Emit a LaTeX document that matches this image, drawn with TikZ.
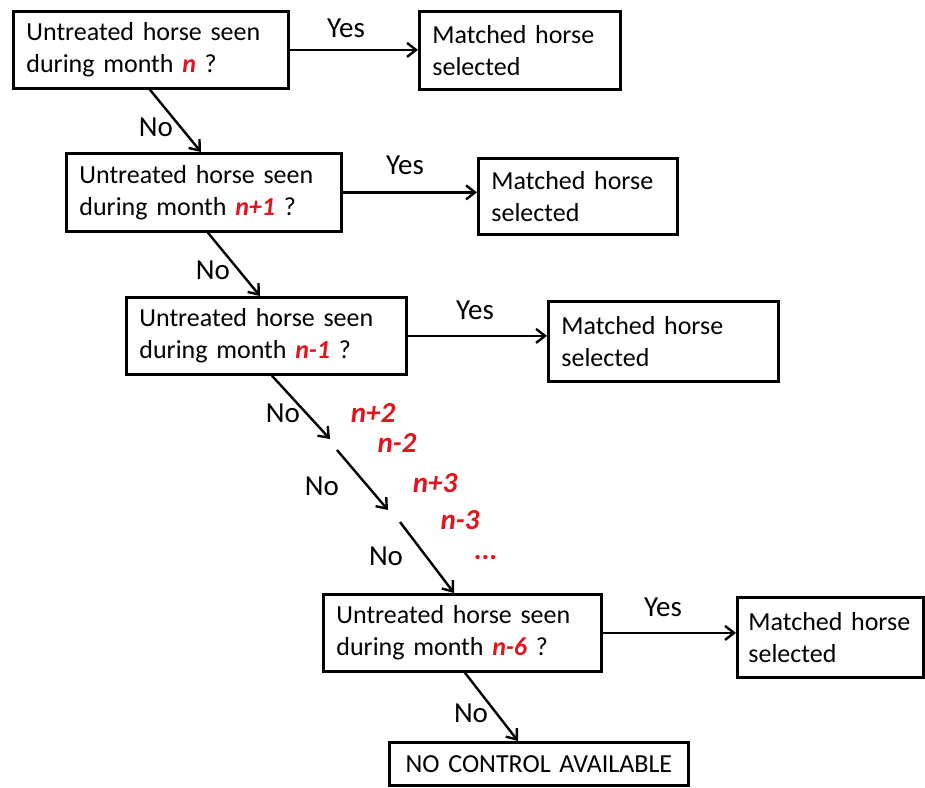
\documentclass[tikz,border=0pt]{standalone}
\usepackage{fontspec}
\setmainfont{Carlito}
\usetikzlibrary{arrows.meta}
\definecolor{nred}{RGB}{226,20,30}
\newcommand{\rn}[1]{\textcolor{nred}{\textbf{\textit{#1}}}}
\tikzset{
  box/.style={draw, line width=2.8pt, anchor=north west, inner xsep=13pt, inner ysep=0pt,
    align=left, font=\fontsize{26}{32}\selectfont},
  arr/.style={line width=2.4pt, -{Straight Barb[length=9pt,width=14pt,line width=2.4pt]}},
  lbl/.style={font=\fontsize{29}{30}\selectfont, inner sep=0pt},
  red/.style={font=\fontsize{29}{30}\selectfont\bfseries\itshape, text=nred, inner sep=0pt}
}
\begin{document}
\begin{tikzpicture}[x=1pt,y=-1pt]
\useasboundingbox (0,0) rectangle (925,787);
% decision boxes
\node[box, text width=249pt, minimum height=77pt] (b1) at (12,10) {Untreated horse seen\\during month \rn{n} ?};
\node[box, text width=249pt, minimum height=78pt] (b2) at (65,152) {Untreated horse seen\\during month \rn{n+1} ?};
\node[box, text width=254pt, minimum height=77pt] (b3) at (125,296) {Untreated horse seen\\during month \rn{n-1} ?};
\node[box, text width=252pt, minimum height=77pt] (b4) at (322,593) {Untreated horse seen\\during month \rn{n-6} ?};
% matched boxes
\node[box, text width=175pt, minimum height=78pt] (m1) at (418,10) {Matched horse\\selected};
\node[box, text width=173pt, minimum height=76pt] (m2) at (477,157) {Matched horse\\selected};
\node[box, text width=204pt, minimum height=80pt] (m3) at (547,300) {Matched horse\\selected};
\node[box, inner xsep=11pt, text width=164pt, minimum height=80pt] (m4) at (736,596) {Matched horse\\selected};
% final
\node[box, align=center, text width=273pt, minimum height=43pt] (b5) at (388,741) {NO CONTROL AVAILABLE};
% yes arrows
\draw[arr] (b1.east) -- (b1.east -| m1.west);
\draw[arr] (b2.east) -- (b2.east -| m2.west);
\draw[arr] (b3.east) -- (b3.east -| m3.west);
\draw[arr] (b4.east) -- (b4.east -| m4.west);
\node[lbl] (y1) at (346,28) {Yes};
\node[lbl] (y2) at (405,165) {Yes};
\node[lbl] (y3) at (475,310) {Yes};
\node[lbl] (y4) at (663,607) {Yes};
% no arrows
\draw[arr] (b1.south -| 150,0) -- (b2.north -| 201,0);
\draw[arr] (b2.south -| 208,0) -- (b3.north -| 260,0);
\coordinate (c1) at (330,439);
\coordinate (c2) at (337,450);
\coordinate (c3) at (388,510);
\coordinate (c4) at (400,522);
\draw[arr] (b3.south -| 272,0) -- (c1);
\draw[arr] (c2) -- (c3);
\draw[arr] (c4) -- (b4.north -| 454,0);
\draw[arr] (b4.south -| 465,0) -- (b5.north -| 518,0);
\node[lbl] (n1) at (156,127) {No};
\node[lbl] (n2) at (213,270) {No};
\node[lbl] (n3) at (283,413) {No};
\node[lbl] (n4) at (322,486) {No};
\node[lbl] (n5) at (386,556) {No};
\node[lbl] (n6) at (471,713) {No};
% red month labels
\node[red] (r1) at (373,413) {n+2};
\node[red] (r2) at (397,443) {n-2};
\node[red] (r3) at (435,483) {n+3};
\node[red] (r4) at (460,520) {n-3};
\node[red] (r5) at (486,558) {...};
\end{tikzpicture}
\end{document}
